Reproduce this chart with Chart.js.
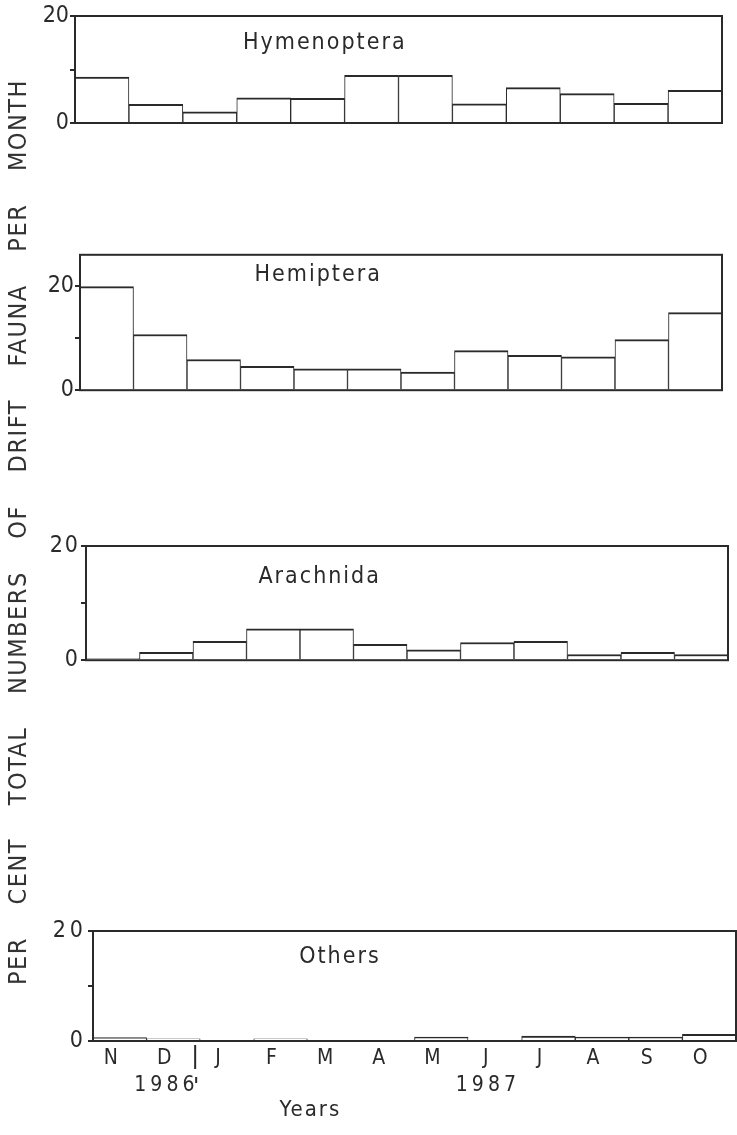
<!DOCTYPE html>
<html>
<head>
<meta charset="utf-8">
<script src="https://cdn.jsdelivr.net/npm/chart.js@4/dist/chart.umd.min.js"></script>
<style>
  html, body { margin: 0; padding: 0; background: #fff; }
  #page { position: relative; width: 737px; height: 1135px; overflow: hidden; background: #fff; }
  #page canvas { position: absolute; left: 0; }
  #ytitle {
    position: absolute; width: 1000px; height: 30px; line-height: 30px;
    left: -482px; top: 517px; transform: rotate(-90deg);
    text-align: center; white-space: nowrap;
    font-family: 'DejaVu Sans Condensed', 'Liberation Sans Narrow', 'DejaVu Sans', sans-serif;
    font-size: 25px; letter-spacing: 1.5px; word-spacing: 24px; color: #333;
  }
</style>
</head>
<body>
<div id="page">
  <canvas id="c1" width="737" height="140" style="top:0px"></canvas>
  <canvas id="c2" width="737" height="165" style="top:240px"></canvas>
  <canvas id="c3" width="737" height="145" style="top:530px"></canvas>
  <canvas id="c4" width="737" height="220" style="top:915px"></canvas>
  <div id="ytitle">PER CENT TOTAL NUMBERS OF DRIFT FAUNA PER MONTH</div>
</div>
<script>
// Monthly drift samples, Nov 1986 - Oct 1987
const months = ['N', 'D', 'J', 'F', 'M', 'A', 'M', 'J', 'J', 'A', 'S', 'O'];
const yearLabels = ['', '1986', '', '', '', '', '', '1987', '', '', '', ''];

// Per cent of total drift fauna per month
const hymenoptera = [8.6, 3.5, 2.1, 4.7, 4.6, 8.9, 8.9, 3.6, 6.6, 5.5, 3.7, 6.1];
const hemiptera   = [19.9, 10.7, 5.9, 4.6, 4.1, 4.1, 3.5, 7.6, 6.7, 6.4, 9.7, 14.9];
const arachnida   = [0.3, 1.4, 3.3, 5.5, 5.5, 2.8, 1.8, 3.1, 3.3, 1.0, 1.4, 1.0];
const others      = [0.6, 0.4, 0, 0.4, 0, 0, 0.7, 0, 0.9, 0.7, 0.7, 1.2];

const panelTitles = ['Hymenoptera', 'Hemiptera', 'Arachnida', 'Others'];
const yTicks = [0, 10, 20];
const yTickLabels = ['0', '', '20'];
const xAxisTitle = 'Years';

const FONT = "'DejaVu Sans Condensed', 'Liberation Sans Narrow', 'DejaVu Sans', sans-serif";
const INK = '#2a2a2a';
Chart.defaults.font.family = FONT;
Chart.defaults.color = INK;

// Sets the canvas letter spacing used for the axis labels
const spacingPlugin = {
  id: 'spacing',
  beforeDraw(chart, args, opts) { chart.ctx.letterSpacing = (opts.px || 0) + 'px'; }
};

// Box round the plot area plus the group name inside it
const framePlugin = {
  id: 'frame',
  afterDraw(chart, args, opts) {
    const { ctx, chartArea: a } = chart;
    ctx.save();
    ctx.strokeStyle = INK;
    ctx.lineWidth = 2;
    ctx.strokeRect(a.left, a.top, a.right - a.left, a.bottom - a.top);
    ctx.letterSpacing = '2px';
    ctx.font = '23px ' + FONT;
    ctx.fillStyle = INK;
    ctx.textAlign = 'center';
    ctx.textBaseline = 'middle';
    ctx.fillText(opts.text, a.left + opts.fx * (a.right - a.left), a.top + opts.dy);
    ctx.restore();
  }
};

// Year divider and axis caption under the bottom panel
const footPlugin = {
  id: 'foot',
  afterDraw(chart, args, opts) {
    if (!opts.enabled) return;
    const { ctx, chartArea: a, scales: { x } } = chart;
    const xd = (x.getPixelForTick(1) + x.getPixelForTick(2)) / 2 - 5;
    ctx.save();
    ctx.strokeStyle = INK;
    ctx.lineWidth = 2;
    ctx.beginPath();
    ctx.moveTo(xd, a.bottom + 4);
    ctx.lineTo(xd, a.bottom + 28);
    ctx.moveTo(xd + 1, a.bottom + 36);
    ctx.lineTo(xd + 1, a.bottom + 42);
    ctx.stroke();
    ctx.letterSpacing = '2px';
    ctx.font = '22px ' + FONT;
    ctx.fillStyle = INK;
    ctx.textAlign = 'center';
    ctx.textBaseline = 'middle';
    ctx.fillText(opts.text, a.left + 0.338 * (a.right - a.left), a.bottom + 69);
    ctx.restore();
  }
};

function makePanel(id, values, title, cfg) {
  const labels = months.map((m, i) => (cfg.showX && yearLabels[i]) ? [m, yearLabels[i]] : m);
  return new Chart(document.getElementById(id), {
    type: 'bar',
    data: {
      labels,
      datasets: [{
        data: values,
        backgroundColor: '#fff',
        borderColor: INK,
        borderWidth: { top: 2, left: 1, right: 1, bottom: 0 },
        barPercentage: 1,
        categoryPercentage: 1
      }]
    },
    options: {
      responsive: false,
      animation: false,
      devicePixelRatio: 1,
      layout: { padding: cfg.pad },
      plugins: {
        legend: { display: false },
        tooltip: { enabled: false },
        spacing: { px: cfg.ls },
        frame: { text: title, fx: cfg.fx, dy: cfg.dy },
        foot: { enabled: !!cfg.showX, text: xAxisTitle }
      },
      scales: {
        x: {
          display: !!cfg.showX,
          grid: { display: false, drawTicks: false },
          border: { display: false },
          ticks: {
            autoSkip: false, maxRotation: 0, padding: 4, labelOffset: -7,
            font: { size: 21, lineHeight: 1.3 }, color: INK
          },
          afterFit(s) { if (cfg.xH) s.height = cfg.xH; }
        },
        y: {
          min: 0,
          max: cfg.max,
          border: { display: false },
          grid: { drawOnChartArea: false, drawTicks: true, tickLength: 5, color: INK, lineWidth: 2 },
          ticks: {
            padding: 1,
            font: { size: 23 },
            color: INK,
            callback: (v) => yTickLabels[yTicks.indexOf(v)] ?? ''
          },
          afterBuildTicks(s) { s.ticks = yTicks.map(v => ({ value: v })); },
          afterFit(s) { s.width = cfg.yW; }
        }
      }
    },
    plugins: [spacingPlugin, framePlugin, footPlugin]
  });
}

makePanel('c1', hymenoptera, panelTitles[0],
  { pad: { top: 16, right: 15, bottom: 17, left: 0 }, yW: 75, max: 20, fx: 0.386, dy: 27, ls: 0 });
makePanel('c2', hemiptera, panelTitles[1],
  { pad: { top: 12, right: 15, bottom: 12, left: 0 }, yW: 80, max: 26, fx: 0.371, dy: 20, ls: 0 });
makePanel('c3', arachnida, panelTitles[2],
  { pad: { top: 16, right: 9, bottom: 14, left: 0 }, yW: 86, max: 20, fx: 0.364, dy: 31, ls: 2 });
makePanel('c4', others, panelTitles[3],
  { pad: { top: 16, right: 1, bottom: 0, left: 0 }, yW: 93, max: 20, fx: 0.384, dy: 26, ls: 4,
    showX: true, xH: 94 });
</script>
</body>
</html>
